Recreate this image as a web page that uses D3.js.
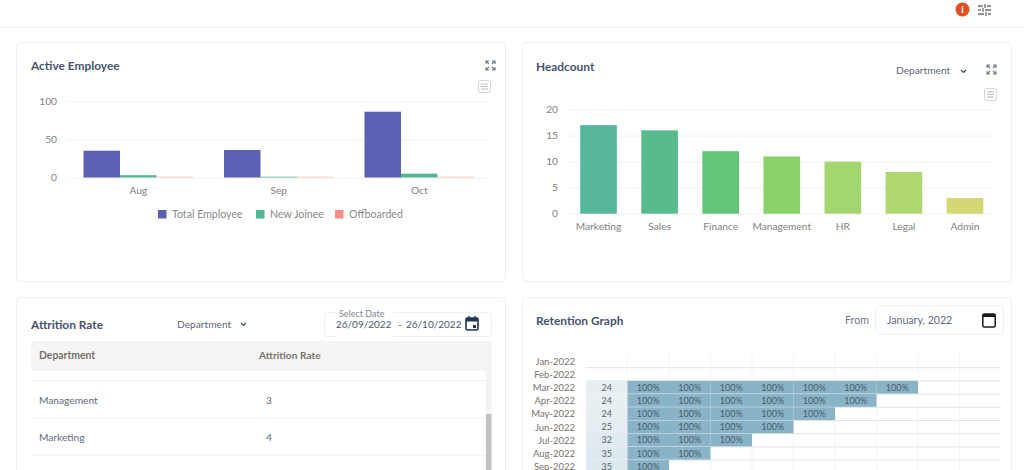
<!DOCTYPE html>
<html><head><meta charset="utf-8">
<script src="https://cdn.jsdelivr.net/npm/d3@7"></script>
<style>
html,body{margin:0;padding:0;background:#fff;overflow:hidden}
svg{display:block;font-family:Lato,"Noto Sans",sans-serif}
</style></head><body><div id="c"></div>
<script>
const months=["Aug","Sep","Oct"];
const seriesNames=["Total Employee","New Joinee","Offboarded"];
const seriesColors=["#5c60b2","#52b596","#f98d86"];
const totalEmployee=[35,36,86];
const newJoinee=[3,1,5];
const offboarded=[1,1,1];
const departments=["Marketing","Sales","Finance","Management","HR","Legal","Admin"];
const headcount=[17,16,12,11,10,8,3];
const headColors=["#57b79d","#58bb8c","#62c578","#8ad16a","#a3d670","#b0d76f","#d4d773"];
const attritionRows=["Management","Marketing","Sales"];
const attritionValues=["3","4","12"];
const cohortMonths=["Jan-2022","Feb-2022","Mar-2022","Apr-2022","May-2022","Jun-2022","Jul-2022","Aug-2022","Sep-2022"];
const cohortSize=[null,null,24,24,24,25,32,35,35];
const retainedCols=[0,0,7,6,5,4,3,2,1];
const totalCols=10;

const W=1024,H=470;
const svg=d3.select("#c").append("svg").attr("width",W).attr("height",H).attr("viewBox",[0,0,W,H]);
const ink="#46536f",grey="#7f7f7f";
function text(x,y,t,o={}){return svg.append("text").attr("x",x).attr("y",y).text(t)
  .attr("font-size",o.s||10.5).attr("fill",o.c||grey).attr("font-weight",o.w||400).attr("text-anchor",o.a||"start");}
function card(x,y,w,h){svg.append("rect").attr("x",x+.5).attr("y",y+.5).attr("width",w-1).attr("height",h).attr("rx",4)
  .attr("fill","#fff").attr("stroke","#efefef");}
function expand(x,y){const g=svg.append("g").attr("transform",`translate(${x},${y})`).attr("fill","none").attr("stroke","#6f7a88").attr("stroke-width",1.1);
  g.append("path").attr("d","M0 3V0H3M0 0L3 3M6 0H9V3M9 0L6 3M0 6V9H3M0 9L3 6M9 6V9H6M9 9L6 6");}
function menu(x,y){const g=svg.append("g").attr("transform",`translate(${x},${y})`);
  g.append("rect").attr("x",.5).attr("y",.5).attr("width",12).attr("height",12).attr("rx",2).attr("fill","#fff").attr("stroke","#d5d5d5");
  g.append("path").attr("d","M3 4H10M3 6.5H10M3 9H10").attr("stroke","#bdbdbd").attr("fill","none");}
function chev(x,y){svg.append("path").attr("d",`M${x} ${y}l2.5 2.5l2.5 -2.5`).attr("fill","none").attr("stroke","#3b4a68").attr("stroke-width",1.2);}
function axisStyle(g){g.attr("font-family",null).attr("font-size",null);g.select(".domain").remove();g.selectAll(".tick line").remove();
  g.selectAll("text").attr("fill",grey).attr("font-size",10.2);}

// top bar
svg.append("line").attr("x1",0).attr("x2",W).attr("y1",27.5).attr("y2",27.5).attr("stroke","#f0f0f0");
svg.append("circle").attr("cx",962.5).attr("cy",9.5).attr("r",7).attr("fill","#e2501f");
text(962.5,13,"i",{s:10,c:"#fff",w:700,a:"middle"});
svg.append("path").attr("d","M978 6H983M987 6H991M978 10H981M985 10H991M978 14H984M988 14H991M985 4V8M983 8V12M986 12V16")
  .attr("stroke","#6f6f6f").attr("stroke-width",1.3).attr("fill","none");

card(16,42,490,239);card(522,42,490,239);card(16,297,490,190);card(522,297,490,190);

// Active Employee
text(31,70,"Active Employee",{s:11.9,c:ink,w:700});
expand(486,61);menu(478,80);
const x1=d3.scaleBand().domain(months).range([68,489.5]);
const x1b=d3.scaleBand().domain(d3.range(3)).range([0,x1.bandwidth()]).paddingInner(0).paddingOuter(.424);
const y1=d3.scaleLinear().domain([0,100]).range([177.5,101]);
svg.append("g").selectAll("line").data([0,50,100]).join("line").attr("x1",68).attr("x2",489).attr("y1",d=>y1(d)+.5).attr("y2",d=>y1(d)+.5).attr("stroke","#f2f2f2");
[totalEmployee,newJoinee,offboarded].forEach((vals,i)=>{
  svg.append("g").selectAll("rect").data(vals).join("rect")
    .attr("x",(d,j)=>x1(months[j])+x1b(i)).attr("width",x1b.bandwidth())
    .attr("y",d=>y1(d)).attr("height",d=>y1(0)-y1(d)).attr("fill",seriesColors[i]).attr("fill-opacity",i==2?.6:1);
});
svg.append("g").attr("transform","translate(0,177.500)").call(d3.axisBottom(x1).tickSize(0).tickPadding(9)).call(axisStyle);
svg.append("g").attr("transform","translate(62,0)").call(d3.axisLeft(y1).tickValues([0,50,100]).tickSize(0).tickPadding(5)).call(axisStyle);
const legendX=[158,256,335];
seriesNames.forEach((n,i)=>{
  svg.append("rect").attr("x",legendX[i]).attr("y",210).attr("width",8.500).attr("height",8.500).attr("fill",seriesColors[i]);
  text(legendX[i]+14,218,n,{s:10.6,c:"#8a8a8a"});
});

// Headcount
text(536,71,"Headcount",{s:11.9,c:ink,w:700});
text(896,74,"Department",{s:10.2,c:"#5f6b7d"});
chev(961,70);expand(987,65);menu(984,88);
const x2=d3.scaleBand().domain(departments).range([568,995.500]).paddingInner(.4).paddingOuter(.2);
const y2=d3.scaleLinear().domain([0,20]).range([213.700,109.500]);
svg.append("g").selectAll("line").data(d3.range(0,21,5)).join("line").attr("x1",568).attr("x2",995).attr("y1",d=>y2(d)+.5).attr("y2",d=>y2(d)+.5).attr("stroke","#f3f3f3");
svg.append("g").selectAll("rect").data(headcount).join("rect")
  .attr("x",(d,i)=>x2(departments[i])).attr("width",x2.bandwidth()).attr("y",d=>y2(d)).attr("height",d=>y2(0)-y2(d)).attr("fill",(d,i)=>headColors[i]);
svg.append("g").attr("transform","translate(0,213.500)").call(d3.axisBottom(x2).tickSize(0).tickPadding(9)).call(axisStyle);
svg.append("g").attr("transform","translate(558,0)").call(d3.axisLeft(y2).tickValues(d3.range(0,21,5)).tickSize(0).tickPadding(0)).call(axisStyle);

// Attrition
text(31,329,"Attrition Rate",{s:11.9,c:ink,w:700});
text(177,328,"Department",{s:10.2,c:"#5f6b7d"});
chev(241,323);
svg.append("rect").attr("x",324.5).attr("y",312.5).attr("width",167).attr("height",24).attr("rx",2).attr("fill","#fff").attr("stroke","#f0f0f0");
svg.append("rect").attr("x",336).attr("y",308).attr("width",57).attr("height",34).attr("fill","#fff");
text(339,317,"Select Date",{s:9,c:"#7d8793"});
text(336,328,"26/09/2022",{s:10,c:"#4a5870"});
text(398,328,"-",{s:10,c:"#4a5870"});
text(406,328,"26/10/2022",{s:10,c:"#4a5870"});
const cal=svg.append("g").attr("transform","translate(465,316)");
cal.append("rect").attr("x",1).attr("y",2).attr("width",12).attr("height",12).attr("rx",1.500).attr("fill","none").attr("stroke","#1f3458").attr("stroke-width",1.600);
cal.append("rect").attr("x",1).attr("y",2).attr("width",12).attr("height",3.500).attr("fill","#1f3458");
cal.append("rect").attr("x",8).attr("y",9).attr("width",3).attr("height",3).attr("fill","#1f3458");
cal.append("path").attr("d","M4 0V2M10 0V2").attr("stroke","#1f3458").attr("stroke-width",1.400);
svg.append("rect").attr("x",31).attr("y",341).attr("width",455).attr("height",30).attr("fill","#f5f5f5");
text(39,359,"Department",{s:10.4,c:"#77716c",w:700});
text(259,359,"Attrition Rate",{s:10.2,c:"#77716c",w:700});
const rowY=d3.scaleBand().domain(attritionRows).range([381,493]);
svg.append("g").selectAll("line").data(attritionRows).join("line").attr("x1",31).attr("x2",486)
  .attr("y1",d=>rowY(d)-.5).attr("y2",d=>rowY(d)-.5).attr("stroke","#f0f0f0");
attritionRows.forEach((r,i)=>{
  text(39,rowY(r)+rowY.bandwidth()/2+4,r,{s:10.2,c:"#5f6b7d"});
  text(266,rowY(r)+rowY.bandwidth()/2+4,attritionValues[i],{s:10.2,c:"#5f6b7d"});
});
svg.append("rect").attr("x",486).attr("y",341).attr("width",5.500).attr("height",129).attr("fill","#f3f3f3");
svg.append("rect").attr("x",486).attr("y",414).attr("width",5.500).attr("height",56).attr("fill","#c1c1c1");

// Retention
text(536,325,"Retention Graph",{s:11.9,c:ink,w:700});
text(845,324,"From",{s:10.6,c:"#6f7a88"});
svg.append("rect").attr("x",875.5).attr("y",305.5).attr("width",128).attr("height",29).attr("rx",3).attr("fill","#fff").attr("stroke","#f0f0f0");
text(887,324,"January, 2022",{s:10.6,c:"#5f6b7d"});
const cal2=svg.append("g").attr("transform","translate(982,312)");
cal2.append("rect").attr("x",.8).attr("y",2).attr("width",12.400).attr("height",13).attr("rx",1.500).attr("fill","none").attr("stroke","#1b1b1b").attr("stroke-width",1.500);
cal2.append("rect").attr("x",.8).attr("y",2).attr("width",12.400).attr("height",3).attr("fill","#1b1b1b");
const cx=d3.scaleBand().domain(d3.range(totalCols)).range([586,1001]);
const cy=d3.scaleBand().domain(cohortMonths).range([354.500,473.300]);
svg.append("g").selectAll("line").data(d3.range(1,totalCols)).join("line").attr("x1",d=>cx(d)).attr("x2",d=>cx(d)).attr("y1",354).attr("y2",470).attr("stroke","#f3f3f3");
svg.append("g").selectAll("line.h").data(cohortMonths).join("line").attr("x1",586).attr("x2",1001)
  .attr("y1",d=>cy(d)+cy.bandwidth()).attr("y2",d=>cy(d)+cy.bandwidth()).attr("stroke","#e3e3e3");
const colorSize=d3.scaleLinear().domain([24,35]).range(["#e8eff3","#dde9ef"]);
cohortMonths.forEach((m,i)=>{
  text(575,cy(m)+cy.bandwidth()/2+3.500,m,{s:9.500,c:"#77716c",a:"end"});
  if(cohortSize[i]==null) return;
  svg.append("rect").attr("x",cx(0)).attr("y",cy(m)).attr("width",cx.bandwidth()).attr("height",cy.bandwidth()-.5).attr("fill",colorSize(cohortSize[i]));
  text(cx(0)+cx.bandwidth()/2,cy(m)+cy.bandwidth()/2+3,cohortSize[i],{s:9,c:"#56636e",a:"middle"});
  d3.range(retainedCols[i]).forEach(k=>{
    svg.append("rect").attr("x",cx(k+1)).attr("y",cy(m)).attr("width",cx.bandwidth()).attr("height",cy.bandwidth()-.5).attr("fill","#89b3c7");
    text(cx(k+1)+cx.bandwidth()/2,cy(m)+cy.bandwidth()/2+3,"100%",{s:9,c:"#4a5c68",a:"middle"});
  });
});
</script></body></html>
